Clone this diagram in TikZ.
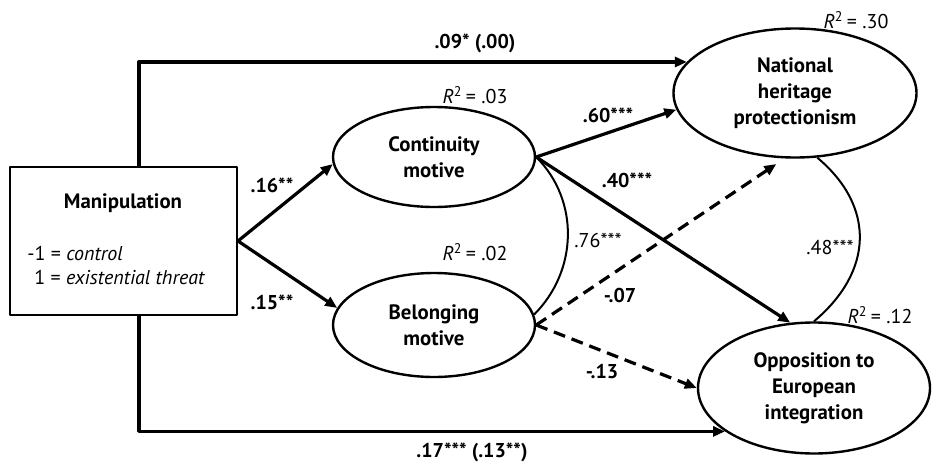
\documentclass[tikz,border=0pt]{standalone}
\usepackage{fontspec}
\setmainfont{PT Sans}
\usetikzlibrary{arrows.meta,shapes.geometric}
\newcommand{\figfont}{\fontsize{10}{13}\selectfont}
\newcommand{\rsquare}[1]{\textit{R}\textsuperscript{2}\,= #1}
\tikzset{
  lat/.style={ellipse,draw,line width=1.2pt,inner sep=0pt,align=center,font=\fontsize{10.4}{13}\selectfont\bfseries},
  obs/.style={rectangle,draw,line width=1pt,inner sep=0pt},
  arr/.style={line width=1.6pt,-{Triangle[length=6pt,width=5pt]}},
  dasharr/.style={arr,dash pattern=on 6pt off 3.5pt},
  covarc/.style={line width=1pt},
  coef/.style={font=\figfont\bfseries,inner sep=0pt},
  plain/.style={font=\figfont,inner sep=0pt}
}
\begin{document}
\begin{tikzpicture}[x=0.5pt,y=-0.5pt,line join=round]
            \useasboundingbox (0,0) rectangle (932,461);
            % boxes and ellipses
            \node[obs,minimum width=113.5pt,minimum height=74pt] (manip) at (123.5,241) {};
            \node[coef,font=\fontsize{10.4}{13}\selectfont\bfseries] (maniptitle) at (123,203) {Manipulation};
            \node[plain,anchor=west] (ctrl) at (27,253) {-1 = \textit{control}};
            \node[plain,anchor=west] (threat) at (34,277) {1 = \textit{existential threat}};
            \node[lat,minimum width=101pt,minimum height=50pt] (cont) at (434,157) {Continuity\\motive};
            \node[lat,minimum width=101pt,minimum height=52pt] (belong) at (434,325) {Belonging\\motive};
            \node[lat,minimum width=121.5pt,minimum height=64.5pt] (nat) at (795,93) {National\\heritage\\protectionism};
            \node[lat,minimum width=116pt,minimum height=65.5pt] (opp) at (814,388) {Opposition to\\European\\integration};
            % explained variance
            \node[plain] (rcont) at (475,95) {\rsquare{.03}};
            \node[plain] (rbelong) at (475,252) {\rsquare{.02}};
            \node[plain] (rnat) at (856,20) {\rsquare{.30}};
            \node[plain] (ropp) at (880,315) {\rsquare{.12}};
            % paths
            \draw[arr] ([xshift=7.75pt]manip.north) |- (nat.164);
            \draw[arr] ([xshift=7.75pt]manip.south) |- (opp.206);
            \draw[arr] (manip.east) -- (cont.184);
            \draw[arr] (manip.east) -- (belong.170);
            \draw[arr] (cont.east) -- (nat.188);
            \draw[arr] (cont.east) -- (opp.110);
            \draw[dasharr,shorten >=5pt] (belong.east) -- (nat.261);
            \draw[dasharr] (belong.east) -- (opp.west);
            \draw[covarc] (cont.east) to[out=-45,in=45] (belong.6);
            \draw[covarc] (nat.-71) to[out=-40,in=40,looseness=1.2] (opp.north);
            % coefficients
            \node[coef] (ctop) at (475,43) {.09* (.00)};
            \node[coef] (cbottom) at (472,452) {.17*** (.13**)};
            \node[coef] (cmc) at (272,185) {.16**};
            \node[coef] (cmb) at (272,302) {.15**};
            \node[coef] (ccn) at (608,115) {.60***};
            \node[coef] (cco) at (627,180) {.40***};
            \node[coef] (cbn) at (620,295) {-.07};
            \node[coef] (cbo) at (602,372) {-.13};
            \node[plain] (ccb) at (598,240) {.76***};
            \node[plain] (cno) at (830,247) {.48***};
\end{tikzpicture}
\end{document}
